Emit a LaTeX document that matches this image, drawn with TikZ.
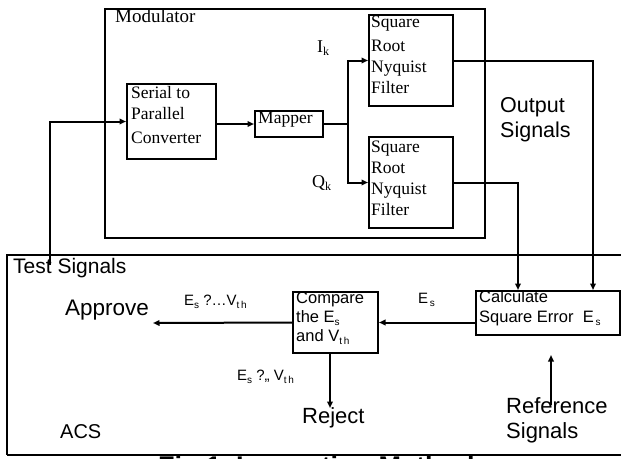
\documentclass[tikz,border=0pt]{standalone}
\usepackage{fontspec}
\setmainfont{Liberation Serif}
\setsansfont{Liberation Sans}
\usetikzlibrary{arrows.meta}

% lowered small subscript used in the labels
\newcommand\lowsub[2][10]{\raisebox{-3.5pt}{\fontsize{#1}{#1}\selectfont #2}}

\begin{document}
\begin{tikzpicture}[x=1pt, y=-1pt,
  box/.style={draw, line width=2pt, inner sep=0pt, rectangle},
  frame/.style={draw, line width=2pt},
  sig/.style={line width=2pt, -{Triangle[length=6.5pt,width=5.5pt]}},
  wire/.style={line width=2pt},
  serif/.style={font=\fontsize{17.5}{20}\selectfont, inner sep=0pt, anchor=base west},
  sans/.style={font=\sffamily\fontsize{22}{24}\selectfont, inner sep=0pt, anchor=base west},
  boxsans/.style={font=\sffamily\fontsize{16.5}{18}\selectfont, inner sep=0pt, anchor=base west},
  small/.style={font=\sffamily\fontsize{15}{18}\selectfont, inner sep=0pt, anchor=base west}]
\useasboundingbox (0,0) rectangle (621,458);

% ---- modulator ----
\node[box, minimum width=380pt, minimum height=229pt] (mod) at (295,123.5) {};
\node[serif, font=\fontsize{19}{22}\selectfont] (modlbl) at (115,22) {Modulator};

\node[box, minimum width=89pt, minimum height=75pt] (sp) at (171.5,121.5) {};
\node[serif] (sp1) at (131,98) {Serial to};
\node[serif] (sp2) at (131,119) {Parallel};
\node[serif] (sp3) at (131,143) {Converter};

\node[box, minimum width=68pt, minimum height=26pt] (map) at (289,124) {};
\node[serif] (maplbl) at (258,123) {Mapper};

\node[box, minimum width=84pt, minimum height=91pt] (f1) at (411,60.5) {};
\node[serif] (f1a) at (371,27) {Square};
\node[serif] (f1b) at (371,51) {Root};
\node[serif] (f1c) at (371,72) {Nyquist};
\node[serif] (f1d) at (371,93) {Filter};

\node[box, minimum width=84pt, minimum height=91pt] (f2) at (411,182.5) {};
\node[serif] (f2a) at (371,152) {Square};
\node[serif] (f2b) at (371,173) {Root};
\node[serif] (f2c) at (371,194) {Nyquist};
\node[serif] (f2d) at (371,215) {Filter};

\node[serif, font=\fontsize{18}{20}\selectfont] (ik) at (317,52) {I\lowsub[12]{k}};
\node[serif, font=\fontsize{18}{20}\selectfont] (qk) at (312,187) {Q\lowsub[12]{k}};

\node[sans, font=\sffamily\fontsize{21.5}{24}\selectfont] (out1) at (500,112) {Output};
\node[sans, font=\sffamily\fontsize{21.5}{24}\selectfont] (out2) at (500,137) {Signals};

% ---- ACS ----
\draw[frame] (621,255) -- (7,255) -- (7,455);
\node[sans, font=\sffamily\fontsize{21}{24}\selectfont] (tslbl) at (13,273) {Test Signals};

\node[box, minimum width=85pt, minimum height=61pt] (cmp) at (335.5,322.5) {};
\node[boxsans] (cmp1) at (296,303) {Compare};
\node[boxsans] (cmp2) at (296,322) {the E\lowsub{s}};
\node[boxsans] (cmp3) at (296,341) {and V\lowsub{t\,h}};

\node[box, minimum width=144pt, minimum height=44pt] (calc) at (548,313) {};
\node[boxsans] (calc1) at (479,302) {Calculate};
\node[boxsans] (calc2) at (479,322) {Square Error\ \ E\lowsub{\,s}};

\node[sans, font=\sffamily\fontsize{22.5}{24}\selectfont] (approve) at (65,315) {Approve};
\node[sans] (reject) at (302,423) {Reject};
\node[sans] (ref1) at (506,413) {Reference};
\node[sans] (ref2) at (506,438) {Signals};
\node[sans, font=\sffamily\fontsize{20}{22}\selectfont] (acs) at (60,438) {ACS};

\node[small] (le1) at (184,305) {E\lowsub{s} ?…V\lowsub{t\,h}};
\node[small] (le2) at (237,380) {E\lowsub{s} ?„ V\lowsub{t\,h}};
\node[small] (les) at (418,303) {E\lowsub{\,s}};

% caption, running off the lower edge
\node[sans, font=\sffamily\bfseries\fontsize{27}{30}\selectfont] (cap) at (158,475) {Fig.1\ \ Inspection Method};
\draw[frame] (7,455) -- (621,455);

% ---- connectors ----
\coordinate (ts) at (50,265);
\draw[sig] (ts) |- (sp.west);
\draw[sig] (sp.east |- map.west) -- (map.west);
\coordinate (split) at (348,124);
\draw[wire] (map.east) -- (split);
\draw[sig] (split) |- (f1.west);
\draw[sig] (split) |- (f2.west);
\draw[sig] (f1.east) -| ([xshift=-28pt]calc.north east);
\draw[sig] (f2.east) -| ([xshift=43pt]calc.north west);
\draw[sig] (calc.west |- cmp.east) -- (cmp.east);
\coordinate (apin) at (153,323);
\draw[sig] (cmp.west) -- (apin);
\coordinate (rjin) at (330,408);
\draw[sig] (cmp.south -| rjin) -- (rjin);
\coordinate (refout) at (551,405);
\coordinate (refin) at (551,355);
\draw[sig] (refout) -- (refin);
\end{tikzpicture}
\end{document}
